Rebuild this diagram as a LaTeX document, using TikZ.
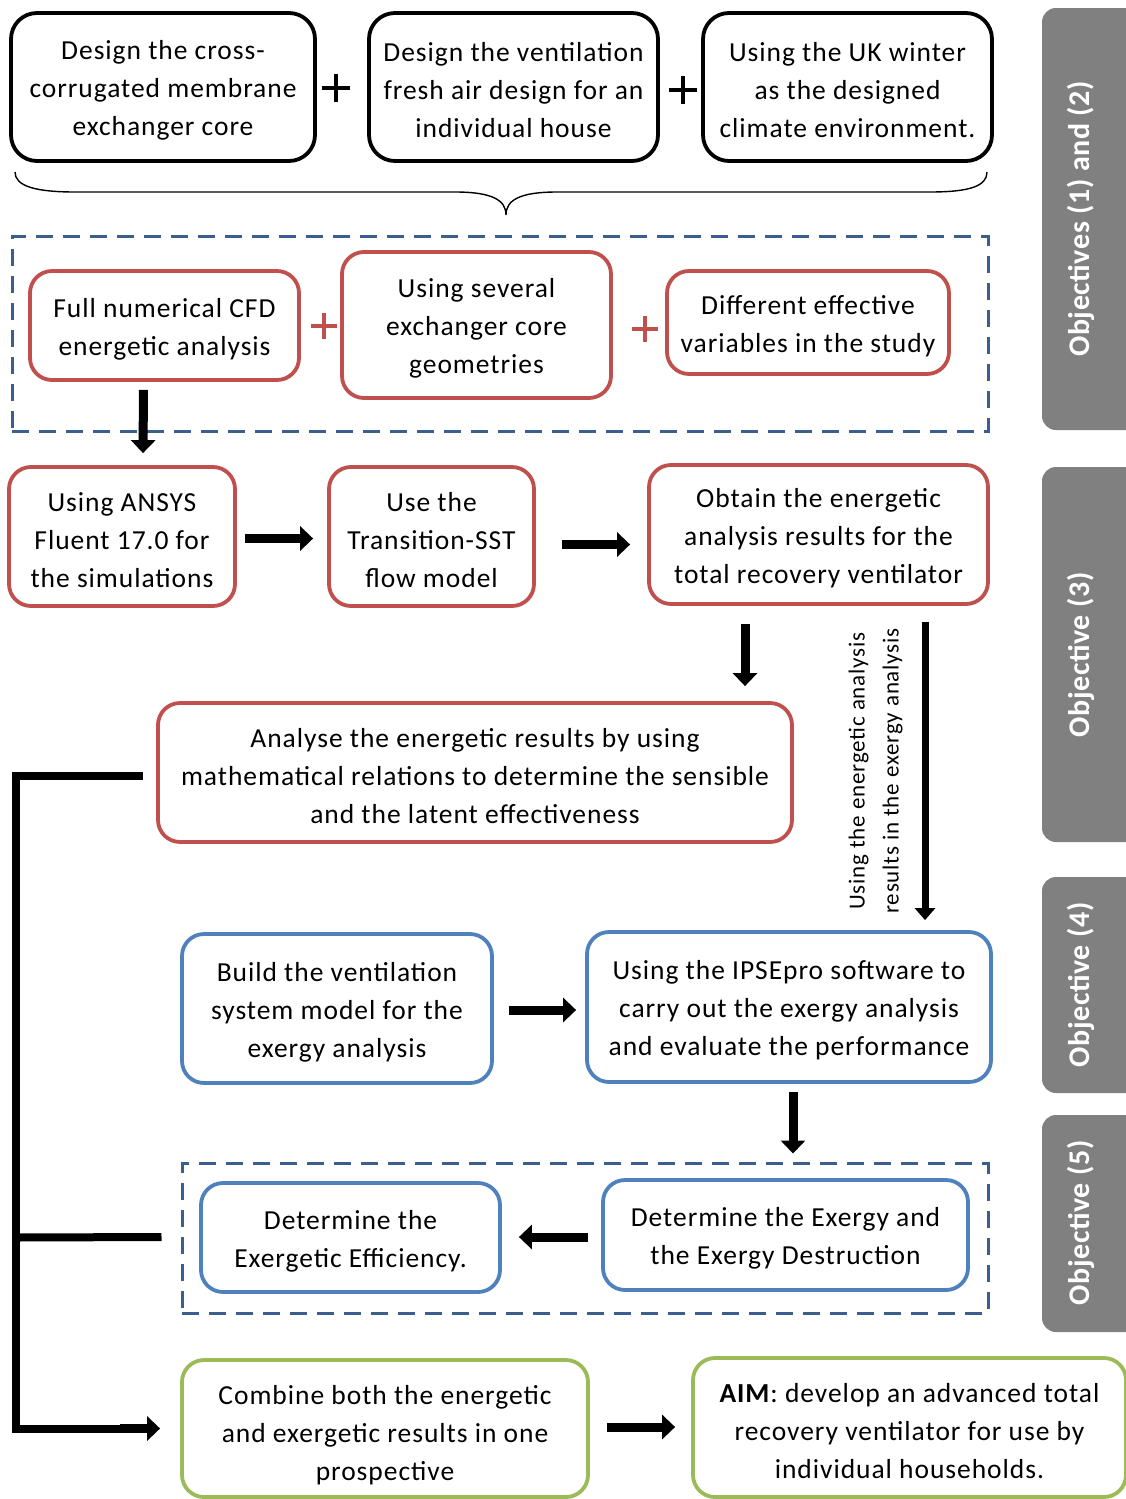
\documentclass[tikz,border=0pt]{standalone}
\usepackage{fontspec}
\setmainfont{Carlito}
\usetikzlibrary{arrows.meta,calc}
\definecolor{cred}{HTML}{C0504D}
\definecolor{cblue}{HTML}{4F81BD}
\definecolor{cgreen}{HTML}{9BBB59}
\definecolor{cdash}{HTML}{3A5E8E}
\definecolor{cgray}{HTML}{808080}
\newcommand\bxfont{\fontsize{27.5}{38}\selectfont\addfontfeatures{LetterSpace=3.5}}
\newcommand\lblfont{\fontsize{23}{34}\selectfont\addfontfeatures{LetterSpace=3.5}}
\newcommand\objfont{\fontsize{30}{34}\selectfont\bfseries\addfontfeatures{LetterSpace=2}}
\tikzset{
 bx/.style={rounded corners=22pt, line width=3.8pt, fill=white, inner sep=0pt},
 txt/.style={label={[font=\bxfont, align=center, inner sep=0pt, yshift=-3.5pt]center:#1}},
 blk/.style={bx, draw=black, rounded corners=26pt},
 rbx/.style={bx, draw=cred},
 bbx/.style={bx, draw=cblue},
 gbx/.style={bx, draw=cgreen},
 dbox/.style={draw=cdash, line width=3pt, dash pattern=on 17pt off 10pt, minimum width=#1},
 arr/.style={line width=9pt, -{Triangle[width=24pt,length=13pt]}},
 thinarr/.style={line width=7pt, -{Triangle[width=20pt,length=12pt]}},
 bracket/.style={line width=8pt, miter limit=10},
 obj/.style={fill=cgray, rounded corners=14pt, inner sep=0pt},
 objtxt/.style={rotate=90, text=white, font=\objfont, inner sep=0pt},
 plusblk/.style={line width=4.5pt, black},
 plusred/.style={line width=4pt, cred},
}
\begin{document}
\begin{tikzpicture}[x=1pt,y=-1pt]
\useasboundingbox (0,0) rectangle (1126,1499);
\clip (0,0) rectangle (1126,1499);

% objective labels
\node[obj, minimum width=110pt, minimum height=422pt] (O12) at (1097,219) {};
\node[objtxt] (O12t) at (1081,219) {Objectives (1) and (2)};
\node[obj, minimum width=110pt, minimum height=375pt] (O3) at (1097,654.5) {};
\node[objtxt] (O3t) at (1081,655) {Objective (3)};
\node[obj, minimum width=110pt, minimum height=216pt] (O4) at (1097,985) {};
\node[objtxt] (O4t) at (1081,985) {Objective (4)};
\node[obj, minimum width=110pt, minimum height=217pt] (O5) at (1097,1223.5) {};
\node[objtxt] (O5t) at (1081,1223) {Objective (5)};

% top row
\node[blk, minimum width=304pt, minimum height=148pt, txt={Design the cross-\\corrugated membrane\\exchanger core}] (A1) at (163,87) {};
\node[blk, minimum width=289pt, minimum height=148pt, txt={Design the ventilation\\fresh air design for an\\individual house}] (A2) at (513.5,87) {};
\node[blk, minimum width=289pt, minimum height=148pt, txt={Using the UK winter\\as the designed\\climate environment.}] (A3) at (847.5,87) {};
\draw[plusblk] (322,88) -- (350,88) (336,74) -- (336,102);
\draw[plusblk] (669,90) -- (697,90) (683,76) -- (683,104);

% brace
\draw[line width=1.4pt] (15,172) .. controls (15,186) and (35,192) .. (75,192) -- (455,192)
  .. controls (492,192) and (506,200) .. (506,215)
  .. controls (506,200) and (520,192) .. (557,192) -- (930,192)
  .. controls (970,192) and (987,186) .. (987,172);

% dashed group 1
\node[dbox=976pt, minimum height=195pt] (G1box) at (500,333.5) {};
\node[rbx, minimum width=269pt, minimum height=109pt, txt={Full numerical CFD\\energetic analysis}] (B1) at (164.5,325.5) {};
\node[rbx, minimum width=269pt, minimum height=146pt, txt={Using several\\exchanger core\\geometries}] (B2) at (476.5,325) {};
\node[rbx, minimum width=282pt, minimum height=103pt, txt={Different effective\\variables in the study}] (B3) at (808,322.5) {};
\draw[plusred] (311,326) -- (337,326) (324,313) -- (324,339);
\draw[plusred] (632,329) -- (658,329) (645,316) -- (645,342);

% row C
\node[rbx, minimum width=226pt, minimum height=139pt, txt={Using ANSYS\\Fluent 17.0 for\\the simulations}] (C1) at (122,536.5) {};
\node[rbx, minimum width=205pt, minimum height=139pt, txt={Use the\\Transition-SST\\flow model}] (C2) at (431.5,536.5) {};
\node[rbx, minimum width=339pt, minimum height=139pt, txt={Obtain the energetic\\analysis results for the\\total recovery ventilator}] (C3) at (818.5,534.5) {};

\draw[arr] ($(B1.south)+(-21,8)$) -- ($(C1.north)+(21,-12)$);
\draw[arr] ($(C1.east)+(8,2)$) -- ($(C2.west)+(-14,2)$);
\draw[arr] ($(C2.east)+(26,8)$) -- ($(C3.west)+(-17,10)$);

% D
\node[rbx, minimum width=634pt, minimum height=139pt, txt={Analyse the energetic results by using\\mathematical relations to determine the sensible\\and the latent effectiveness}] (D) at (475,772.5) {};
\draw[arr] ($(C3.south)+(-73.5,18)$) -- ($(D.north)+(270,-15)$);

% long arrow with label
\node[rotate=90, align=center, font=\lblfont, inner sep=0pt] (lbl) at (875.5,771) {Using the energetic analysis\\results in the exergy analysis};

% E row
\node[bbx, minimum width=310pt, minimum height=149pt, txt={Build the ventilation\\system model for the\\exergy analysis}] (E1) at (337,1008.5) {};
\node[bbx, minimum width=404pt, minimum height=150pt, txt={Using the IPSEpro software to\\carry out the exergy analysis\\and evaluate the performance}] (E2) at (789,1007) {};
\draw[thinarr] ($(C3.south)+(106.5,16)$) -- ($(E2.north)+(136,-10)$);
\draw[arr] ($(E1.east)+(15,1.5)$) -- ($(E2.west)+(-9,3)$);

% dashed group 2
\node[dbox=806pt, minimum height=150pt] (G2box) at (585,1238) {};
\node[bbx, minimum width=299pt, minimum height=109pt, txt={Determine the\\Exergetic Efficiency.}] (F1) at (350.5,1237.5) {};
\node[bbx, minimum width=365pt, minimum height=110pt, txt={Determine the Exergy and\\the Exergy Destruction}] (F2) at (785.5,1235) {};
\draw[arr] ($(E2.south)+(4,8)$) -- ($(G2box.north)+(208,-8)$);
\draw[arr] ($(F2.west)+(-13,2)$) -- ($(F1.east)+(17,-0.5)$);

% G row
\node[gbx, minimum width=406pt, minimum height=137pt] (G1) at (385,1428.5) {};
\begin{scope}
\clip (0,0) rectangle (1126,1484);
\node[align=center, font=\bxfont, inner sep=0pt] (G1t) at (385,1435.5) {Combine both the energetic\\and exergetic results in one\\prospective};
\end{scope}
\node[gbx, minimum width=433pt, minimum height=139pt, txt={\textbf{AIM}: develop an advanced total\\recovery ventilator for use by\\individual households.}] (G2) at (909.5,1427.5) {};
\draw[arr] ($(G1.east)+(17,-1.5)$) -- ($(G2.west)+(-16,-0.5)$);

% bracket
\coordinate (bk) at ($(D.west)+(-140,3.5)$);
\draw[bracket] ($(D.west)+(-13,3.5)$) -- (bk) -- (bk |- G1.west) -- ++(127,0);
\draw[arr] ($(G1.west)+(-60,0)$) -- ($(G1.west)+(-20,0)$);
\draw[bracket] (bk |- F1.west) -- ($(G2box.west)+(-19,-1)$);
\end{tikzpicture}
\end{document}
